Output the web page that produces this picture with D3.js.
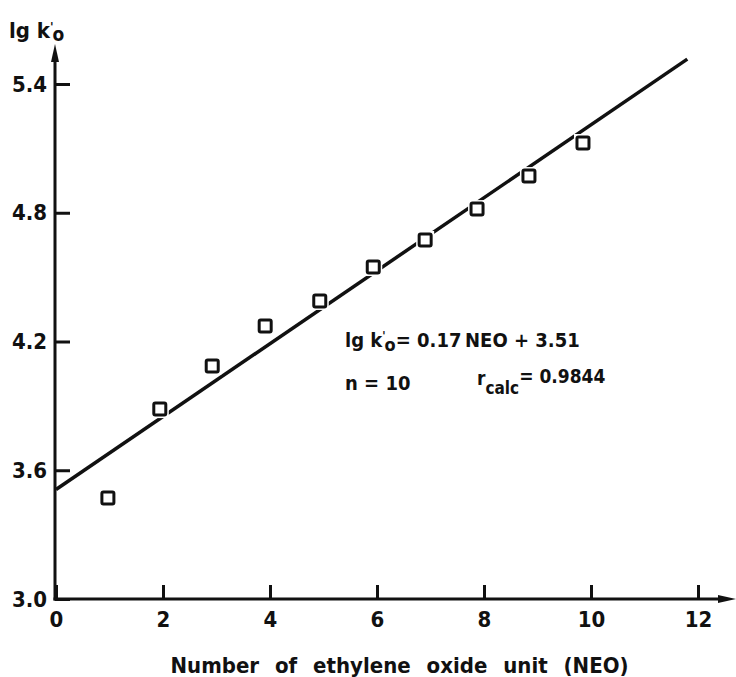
<!DOCTYPE html>
<html>
<head>
<meta charset="utf-8">
<script src="https://cdn.jsdelivr.net/npm/d3@7"></script>
<style>
  body { margin: 0; background: #fff; }
  svg { display: block; font-family: "DejaVu Sans Condensed", "DejaVu Sans", sans-serif; font-weight: bold; }
</style>
</head>
<body>
<div id="chart"></div>
<script>
// values
const neo = [0.97, 1.94, 2.92, 3.91, 4.93, 5.93, 6.90, 7.87, 8.84, 9.85];
const lgk = [3.471, 3.885, 4.086, 4.272, 4.389, 4.547, 4.673, 4.817, 4.971, 5.125];
const fitX = [0, 11.8];
const fitY = [3.51, 5.516];
const xTicks = [0, 2, 4, 6, 8, 10, 12];
const yTicks = [3.0, 3.6, 4.2, 4.8, 5.4];

const width = 736, height = 677;
const ink = "#111";
const font = "'DejaVu Sans Condensed', 'DejaVu Sans', sans-serif";

const svg = d3.select("#chart").append("svg")
    .attr("width", width)
    .attr("height", height);

const x = d3.scaleLinear().domain([0, 12]).range([56, 698]);
const y = d3.scaleLinear().domain([3.0, 5.4]).range([599, 84]);

// axes, ticks pointing inward
const xAxis = svg.append("g")
    .attr("transform", `translate(0,${y(3.0)})`)
    .call(d3.axisBottom(x).tickValues(xTicks).tickSizeInner(-14).tickSizeOuter(0).tickPadding(12).tickFormat(d3.format("d")));

const yAxis = svg.append("g")
    .attr("transform", `translate(${x(0) - 1},0)`)
    .call(d3.axisLeft(y).tickValues(yTicks).tickSizeInner(-15).tickSizeOuter(0).tickPadding(8).tickFormat(d3.format(".1f")));

for (const g of [xAxis, yAxis]) {
  g.select(".domain").remove();
  g.selectAll(".tick line").attr("stroke", ink).attr("stroke-width", 3);
  g.selectAll(".tick text")
      .attr("fill", ink)
      .attr("font-size", 22)
      .attr("font-weight", "bold")
      .attr("font-family", font);
}
xAxis.selectAll(".tick text").attr("dy", "0.71em");

// axis lines with arrows
svg.append("line")
    .attr("x1", x(0) - 1).attr("x2", x(0) - 1)
    .attr("y1", y(3.0) + 1.5).attr("y2", 58)
    .attr("stroke", ink).attr("stroke-width", 3);
svg.append("path")
    .attr("d", `M${x(0) - 1},44 L${x(0) + 3},62 L${x(0) - 5},62 Z`)
    .attr("fill", ink);

svg.append("line")
    .attr("x1", x(0) - 2.5).attr("x2", 720)
    .attr("y1", y(3.0)).attr("y2", y(3.0))
    .attr("stroke", ink).attr("stroke-width", 3);
svg.append("path")
    .attr("d", `M736,${y(3.0)} L718,${y(3.0) - 4} L718,${y(3.0) + 4} Z`)
    .attr("fill", ink);

// regression line
svg.append("path")
    .datum(d3.zip(fitX, fitY))
    .attr("fill", "none")
    .attr("stroke", ink)
    .attr("stroke-width", 3.5)
    .attr("d", d3.line().x(d => x(d[0])).y(d => y(d[1])));

// data squares with white halo breaking the line
const pts = d3.zip(neo, lgk);
const s = 12;
svg.append("g")
    .selectAll("rect")
    .data(pts)
    .join("rect")
    .attr("x", d => x(d[0]) - s / 2 - 3)
    .attr("y", d => y(d[1]) - s / 2 - 3)
    .attr("width", s + 6)
    .attr("height", s + 6)
    .attr("fill", "#fff");

svg.append("g")
    .selectAll("rect")
    .data(pts)
    .join("rect")
    .attr("x", d => x(d[0]) - s / 2)
    .attr("y", d => y(d[1]) - s / 2)
    .attr("width", s)
    .attr("height", s)
    .attr("rx", 1.5)
    .attr("fill", "#fff")
    .attr("stroke", ink)
    .attr("stroke-width", 3);

// y axis title: lg k'o
const yt = svg.append("text")
    .attr("x", 9).attr("y", 38)
    .attr("font-size", 22)
    .attr("fill", ink);
yt.append("tspan").text("lg k");
yt.append("tspan").attr("dy", -7).attr("font-size", 13).text("'");
yt.append("tspan").attr("dx", -1).attr("dy", 10).attr("font-size", 19).text("o");

// x axis title
svg.append("text")
    .attr("x", (172 + 627) / 2)
    .attr("y", 673)
    .attr("text-anchor", "middle")
    .attr("font-size", 22)
    .attr("word-spacing", 9)
    .attr("fill", ink)
    .text("Number of ethylene oxide unit (NEO)");

// regression annotation
const a1 = svg.append("text")
    .attr("x", 345).attr("y", 347)
    .attr("font-size", 20)
    .attr("fill", ink);
a1.append("tspan").text("lg k");
a1.append("tspan").attr("dy", -7).attr("font-size", 12).text("'");
a1.append("tspan").attr("dx", -1).attr("dy", 11).attr("font-size", 18).text("o");
a1.append("tspan").attr("dy", -4).text("= 0.17\u2009NEO + 3.51");

svg.append("text")
    .attr("x", 345).attr("y", 390)
    .attr("font-size", 20)
    .attr("fill", ink)
    .text("n = 10");

const a2 = svg.append("text")
    .attr("x", 477).attr("y", 385)
    .attr("font-size", 19)
    .attr("fill", ink);
a2.append("tspan").text("r");
a2.append("tspan").attr("dy", 9).attr("font-size", 17).text("calc");
a2.append("tspan").attr("dy", -11).text("= 0.9844");
</script>
</body>
</html>
